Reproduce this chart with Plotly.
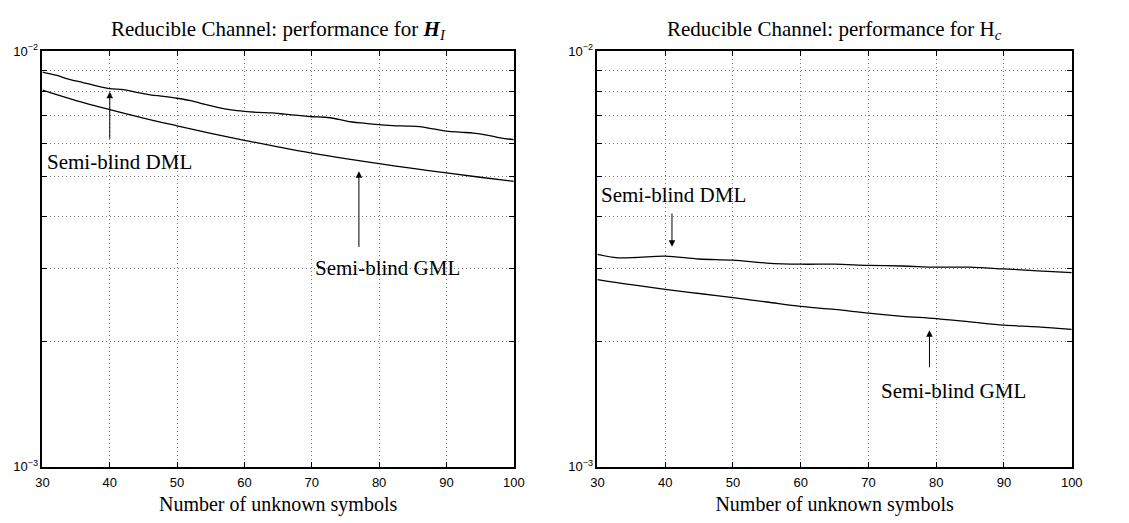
import math
import plotly.graph_objects as go

# Number of unknown symbols (x axis)
n_dml_left = [30, 32, 34, 36, 38, 40, 42, 44, 46, 48, 50, 52, 54, 56, 58, 60, 62, 64, 66, 68,
              70, 72, 74, 76, 78, 80, 82, 84, 86, 88, 90, 92, 94, 96, 98, 100]
# Semi-blind DML, channel H_I
dml_left = [8.9e-3, 8.75e-3, 8.55e-3, 8.4e-3, 8.25e-3, 8.12e-3, 8.08e-3, 7.95e-3, 7.85e-3, 7.78e-3,
            7.7e-3, 7.6e-3, 7.45e-3, 7.32e-3, 7.22e-3, 7.16e-3, 7.12e-3, 7.1e-3, 7.05e-3, 7.0e-3,
            6.95e-3, 6.93e-3, 6.85e-3, 6.75e-3, 6.7e-3, 6.65e-3, 6.62e-3, 6.6e-3, 6.58e-3, 6.5e-3,
            6.42e-3, 6.38e-3, 6.35e-3, 6.28e-3, 6.18e-3, 6.12e-3]

n_gml = [30, 35, 40, 45, 50, 55, 60, 65, 70, 75, 80, 85, 90, 95, 100]
# Semi-blind GML, channel H_I
gml_left = [8.05e-3, 7.6e-3, 7.23e-3, 6.9e-3, 6.61e-3, 6.34e-3, 6.1e-3, 5.88e-3, 5.68e-3,
            5.51e-3, 5.36e-3, 5.22e-3, 5.09e-3, 4.97e-3, 4.86e-3]

n_dml_right = [30, 33, 36, 40, 45, 50, 55, 60, 65, 70, 75, 80, 85, 90, 95, 100]
# Semi-blind DML, channel H_c
dml_right = [3.24e-3, 3.18e-3, 3.19e-3, 3.21e-3, 3.16e-3, 3.14e-3, 3.09e-3, 3.07e-3, 3.07e-3,
             3.05e-3, 3.04e-3, 3.02e-3, 3.02e-3, 2.99e-3, 2.96e-3, 2.93e-3]
# Semi-blind GML, channel H_c
gml_right = [2.82e-3, 2.74e-3, 2.67e-3, 2.61e-3, 2.55e-3, 2.49e-3, 2.43e-3, 2.39e-3, 2.34e-3,
             2.3e-3, 2.27e-3, 2.23e-3, 2.19e-3, 2.17e-3, 2.14e-3]

x_ticks = [30, 40, 50, 60, 70, 80, 90, 100]
y_ticks = [1e-3, 2e-3, 3e-3, 4e-3, 5e-3, 6e-3, 7e-3, 8e-3, 9e-3, 1e-2]
y_ticktext = ["10<sup>−3</sup>", "", "", "", "", "", "", "", "", "10<sup>−2</sup>"]

titles = ["Reducible Channel: performance for <b><i>H</i></b><sub><i>I</i></sub>",
          "Reducible Channel: performance for H<sub><i>c</i></sub>"]
x_title = "Number of unknown symbols"

SERIF = "Liberation Serif"
SANS = "Liberation Sans"

fig = go.Figure()
line = dict(color="black", width=1.3)
fig.add_trace(go.Scatter(x=n_dml_left, y=dml_left, mode="lines", line=line, xaxis="x", yaxis="y",
                         showlegend=False, line_shape="spline"))
fig.add_trace(go.Scatter(x=n_gml, y=gml_left, mode="lines", line=line, xaxis="x", yaxis="y",
                         showlegend=False, line_shape="spline"))
fig.add_trace(go.Scatter(x=n_dml_right, y=dml_right, mode="lines", line=line, xaxis="x2", yaxis="y2",
                         showlegend=False, line_shape="spline"))
fig.add_trace(go.Scatter(x=n_gml, y=gml_right, mode="lines", line=line, xaxis="x2", yaxis="y2",
                         showlegend=False, line_shape="spline"))

grid = dict(showgrid=True, gridcolor="#7a7a7a", griddash="1px,3px", gridwidth=1)
xaxis_style = dict(range=[30, 100], tickvals=x_ticks, ticks="inside", ticklen=5, tickcolor="black",
                   showline=True, linecolor="black", linewidth=1.5, mirror="ticks",
                   zeroline=False, tickfont=dict(family=SANS, size=13, color="black"),
                   ticklabelstandoff=3,
                   title=dict(text=x_title, font=dict(family=SERIF, size=20, color="black"), standoff=8),
                   **grid)
yaxis_style = dict(type="log", range=[-3, -2], tickvals=y_ticks, ticktext=y_ticktext,
                   ticks="inside", ticklen=5, tickcolor="black",
                   showline=True, linecolor="black", linewidth=1.5, mirror="ticks",
                   zeroline=False, tickfont=dict(family=SANS, size=13, color="black"), **grid)

fig.update_layout(
    width=1129, height=523,
    margin=dict(l=0, r=0, t=0, b=0),
    paper_bgcolor="white", plot_bgcolor="white",
    xaxis=dict(domain=[36 / 1129, 515 / 1129], anchor="y", **xaxis_style),
    yaxis=dict(domain=[50 / 523, 479.5 / 523], anchor="x", **yaxis_style),
    xaxis2=dict(domain=[600 / 1129, 1082 / 1129], anchor="y2", **xaxis_style),
    yaxis2=dict(domain=[50 / 523, 479.5 / 523], anchor="x2", **yaxis_style),
)

annotations = []
for i, t in enumerate(titles):
    xc = (36 + 515) / 2 / 1129 if i == 0 else (600 + 1082) / 2 / 1129
    annotations.append(dict(text=t, xref="paper", yref="paper", x=xc, y=(523 - 22) / 523,
                            showarrow=False, xanchor="center", yanchor="middle",
                            font=dict(family=SERIF, size=21, color="black")))

L = math.log10


def arrow(xr, yr, x, y_head, y_tail):
    return dict(x=x, y=L(y_head), ax=x, ay=L(y_tail), xref=xr, yref=yr,
                axref=xr, ayref=yr, showarrow=True, arrowhead=2, arrowsize=1.3,
                arrowwidth=1, arrowcolor="black", text="")


def label(xr, yr, x, y, text, anchor="center"):
    return dict(x=x, y=L(y), xref=xr, yref=yr, text=text, showarrow=False, xanchor=anchor,
                yanchor="middle", font=dict(family=SERIF, size=21, color="black"))


annotations += [
    arrow("x", "y", 40, 7.98e-3, 6.1e-3),
    label("x", "y", 30.4, 5.42e-3, "Semi-blind DML", "left"),
    arrow("x", "y", 77, 5.14e-3, 3.35e-3),
    label("x", "y", 81.2, 3.0e-3, "Semi-blind GML"),
    arrow("x2", "y2", 41, 3.38e-3, 4.1e-3),
    label("x2", "y2", 41.2, 4.5e-3, "Semi-blind DML"),
    arrow("x2", "y2", 79, 2.13e-3, 1.72e-3),
    label("x2", "y2", 82.6, 1.52e-3, "Semi-blind GML"),
]
fig.update_layout(annotations=annotations)

fig.write_html("out.html")
